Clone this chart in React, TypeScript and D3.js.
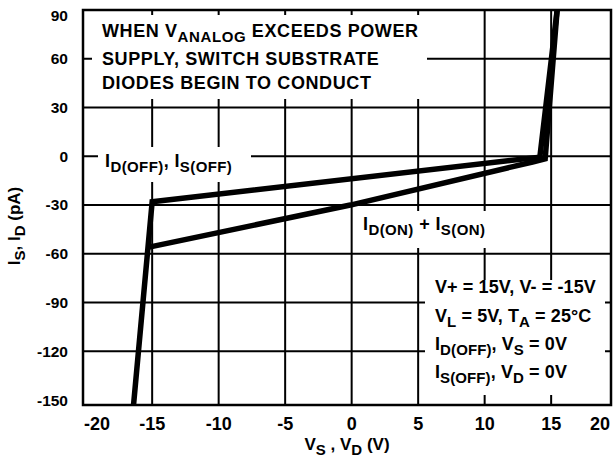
import React from 'react';
import * as d3 from 'd3';

const xTicks = [-20, -15, -10, -5, 0, 5, 10, 15, 20];
const yTicks = [90, 60, 30, 0, -30, -60, -90, -120, -150];

// I_D(OFF), I_S(OFF) curve
const offV = [-16.4, -15.0, 14.15, 15.45];
const offI = [-153, -28, -0.5, 90];

// I_D(ON) + I_S(ON) curve
const onV = [-15.32, -0.1, 13.6, 14.55, 15.45];
const onI = [-56, -30, -3.5, -1.5, 90];

const W = 613;
const H = 458;
const font = '"Liberation Sans", Arial, Helvetica, sans-serif';

const x = d3.scaleLinear().domain([-20.2, 19.5]).range([83, 611]);
const y = d3.scaleLinear().domain([-153, 90]).range([405, 10]);

const line = d3
  .line<[number, number]>()
  .x(d => x(d[0]))
  .y(d => y(d[1]));

const offPts = offV.map((v, i) => [v, offI[i]] as [number, number]);
const onPts = onV.map((v, i) => [v, onI[i]] as [number, number]);

// white panels behind the annotations (they hide the grid)
const masks = [
  { x: 92, y: 15, w: 335, h: 84 },
  { x: 98, y: 147, w: 153, h: 35 },
  { x: 358, y: 211, w: 137, h: 37 },
  { x: 425, y: 280, w: 180, h: 115 },
];

// text with subscripts: segments flagged true are lowered and smaller
type Seg = [string, boolean?];
const Rich: React.FC<{ segs: Seg[]; sub?: number; shift?: number }> = ({ segs, sub = 15, shift = 5 }) => {
  let cur = 0;
  return (
    <>
      {segs.map(([t, s], i) => {
        const target = s ? shift : 0;
        const dy = target - cur;
        cur = target;
        return (
          <tspan key={i} dy={dy} fontSize={s ? sub : undefined}>
            {t}
          </tspan>
        );
      })}
    </>
  );
};

export default function App() {
  const [x0, x1] = x.range();
  const [y0, y1] = y.range();
  return (
    <svg
      width={W}
      height={H}
      style={{ position: 'absolute', left: 0, top: 0, background: '#fff' }}
      fontFamily={font}
      fontWeight="bold"
    >
      <defs>
        <clipPath id="plot">
          <rect x={x0} y={y1} width={x1 - x0} height={y0 - y1} />
        </clipPath>
      </defs>

      {/* grid */}
      <g stroke="#000" strokeWidth={2}>
        {xTicks.slice(1, -1).map(t => (
          <line key={'gx' + t} x1={x(t)} x2={x(t)} y1={y1} y2={y0} />
        ))}
        {yTicks.slice(1, -1).map(t => (
          <line key={'gy' + t} x1={x0} x2={x1} y1={y(t)} y2={y(t)} />
        ))}
      </g>

      {masks.map((m, i) => (
        <rect key={i} x={m.x} y={m.y} width={m.w} height={m.h} fill="#fff" />
      ))}

      <rect x={x0} y={y1} width={x1 - x0} height={y0 - y1} fill="none" stroke="#000" strokeWidth={2.5} />

      {/* curves */}
      <g clipPath="url(#plot)" fill="none" stroke="#000" strokeWidth={5.5} strokeLinejoin="miter">
        <path d={line(offPts) ?? ''} />
        <path d={line(onPts) ?? ''} />
      </g>

      {/* y tick labels */}
      <g fontSize={15.5} textAnchor="end">
        {yTicks.map(t => (
          <text key={'ly' + t} x={68} y={Math.max(y(t), 16)} dy="0.35em">
            {t}
          </text>
        ))}
      </g>

      {/* x tick labels */}
      <g fontSize={18}>
        {xTicks.map((t, i) => (
          <text
            key={'lx' + t}
            x={i === 0 ? 84 : i === xTicks.length - 1 ? 610 : x(t)}
            y={430}
            textAnchor={i === 0 ? 'start' : i === xTicks.length - 1 ? 'end' : 'middle'}
          >
            {t}
          </text>
        ))}
      </g>

      {/* axis titles */}
      <text x={347} y={450} fontSize={17} textAnchor="middle">
        <Rich segs={[['V'], ['S', true], [' , V'], ['D', true], [' (V)']]} />
      </text>
      <text transform="translate(20,226) rotate(-90)" fontSize={17} textAnchor="middle">
        <Rich segs={[['I'], ['S', true], [', I'], ['D', true], [' (pA)']]} />
      </text>

      {/* annotations */}
      <g fontSize={18} letterSpacing={0.4}>
        <text x={102} y={37} letterSpacing={0.6}>
          <Rich segs={[['WHEN V'], ['ANALOG', true], [' EXCEEDS POWER']]} />
        </text>
        <text x={102} y={65} letterSpacing={0.6}>SUPPLY, SWITCH SUBSTRATE</text>
        <text x={102} y={88.5} letterSpacing={0.6}>DIODES BEGIN TO CONDUCT</text>

        <text x={105} y={167}>
          <Rich segs={[['I'], ['D(OFF)', true], [', I'], ['S(OFF)', true]]} />
        </text>
        <text x={363} y={230}>
          <Rich segs={[['I'], ['D(ON)', true], [' + I'], ['S(ON)', true]]} />
        </text>
      </g>
      <g fontSize={18} letterSpacing={0.1}>
        <text x={435} y={293}>V+ = 15V, V- = -15V</text>
        <text x={435} y={322}>
          <Rich segs={[['V'], ['L', true], [' = 5V, T'], ['A', true], [' = 25°C']]} />
        </text>
        <text x={435} y={350}>
          <Rich segs={[['I'], ['D(OFF)', true], [', V'], ['S', true], [' = 0V']]} />
        </text>
        <text x={435} y={378}>
          <Rich segs={[['I'], ['S(OFF)', true], [', V'], ['D', true], [' = 0V']]} />
        </text>
      </g>
    </svg>
  );
}
